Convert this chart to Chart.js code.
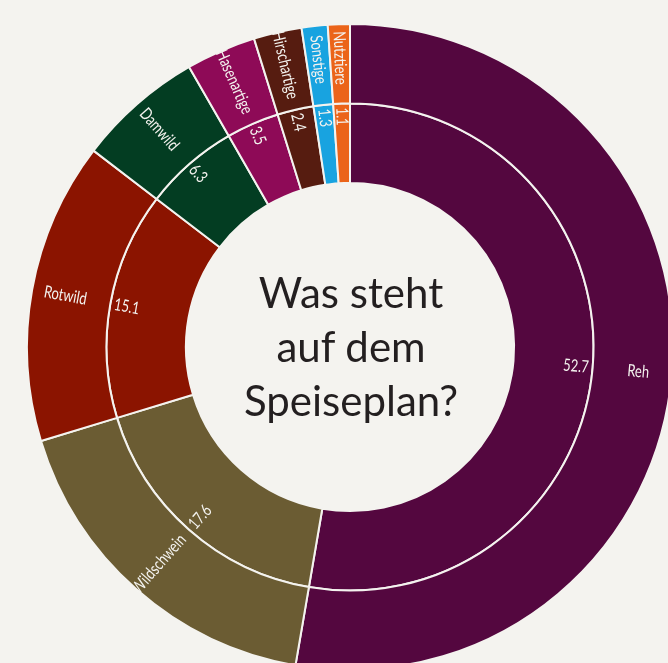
<!DOCTYPE html>
<html lang="de">
<head>
<meta charset="utf-8">
<title>Was steht auf dem Speiseplan?</title>
<script src="https://cdn.jsdelivr.net/npm/chart.js@4.4.1/dist/chart.umd.min.js"></script>
<style>
    html, body {
        margin: 0;
        padding: 0;
        width: 668px;
        height: 663px;
        overflow: hidden;
        background: #f4f3ef;
    }
    #wrap {
        position: relative;
        width: 668px;
        height: 663px;
        overflow: hidden;
    }
    #diet-chart {
        position: absolute;
        left: 0;
        top: 0;
    }
    #title {
        position: absolute;
        left: 200px;
        width: 302px;
        top: 265px;
        text-align: center;
        font-family: Lato, "Open Sans", sans-serif;
        font-size: 42px;
        line-height: 54px;
        color: #231f20;
    }
</style>
</head>
<body>
<div id="wrap">
    <canvas id="diet-chart" width="700" height="694"></canvas>
    <div id="title">Was steht<br>auf dem<br>Speiseplan?</div>
</div>
<script>
// Anteile der Beutetiere (Prozent)
var categories = ['Reh', 'Wildschwein', 'Rotwild', 'Damwild', 'Hasenartige', 'Hirschartige', 'Sonstige', 'Nutztiere'];
var shares = [52.7, 17.6, 15.1, 6.3, 3.5, 2.4, 1.3, 1.1];
var colors = ['#54073f', '#6b5c33', '#8b1400', '#033d22', '#8e0a57', '#561c10', '#18a3e0', '#eb6419'];

var bgColor = '#f4f3ef';
var labelFont = '17px Lato, "Open Sans", sans-serif';
var squeeze = 0.76; // schmale Schrift nachbilden

// Beschriftung entlang der Radien
var ringLabels = {
    id: 'ringLabels',
    afterDatasetsDraw: function (chart) {
        var ctx = chart.ctx;
        chart.data.datasets.forEach(function (ds, di) {
            var meta = chart.getDatasetMeta(di);
            meta.data.forEach(function (arc, i) {
                var p = arc.getProps(['startAngle', 'endAngle', 'innerRadius', 'outerRadius', 'x', 'y'], true);
                var mid = (p.startAngle + p.endAngle) / 2;
                var right = Math.cos(mid) >= 0;
                var text, r, align;
                if (di === 0) {
                    text = categories[i];
                    r = (p.innerRadius + p.outerRadius) / 2 + 6;
                    align = 'center';
                } else {
                    text = shares[i].toFixed(1);
                    r = p.outerRadius - 4;
                    align = right ? 'right' : 'left';
                }
                ctx.save();
                ctx.translate(p.x, p.y);
                ctx.rotate(right ? mid : mid + Math.PI);
                ctx.scale(squeeze, 1);
                ctx.font = labelFont;
                ctx.fillStyle = '#f4f3ef';
                ctx.textAlign = align;
                ctx.textBaseline = 'middle';
                ctx.fillText(text, (right ? r : -r) / squeeze, 0);
                ctx.restore();
            });
        });
    }
};

var chartCanvas = document.getElementById('diet-chart');
var dietChart = new Chart(chartCanvas, {
    type: 'doughnut',
    data: {
        labels: categories,
        datasets: [{
            label: 'Namen',
            data: shares,
            backgroundColor: colors,
            borderColor: bgColor,
            borderWidth: 2
        }, {
            label: 'Anteil',
            data: shares,
            backgroundColor: colors,
            borderColor: bgColor,
            borderWidth: 2
        }]
    },
    options: {
        responsive: false,
        animation: false,
        cutout: '50.8%',
        layout: { padding: 23 },
        events: [],
        plugins: {
            legend: { display: false },
            tooltip: { enabled: false },
            title: { display: false }
        }
    },
    plugins: [ringLabels]
});
</script>
</body>
</html>
